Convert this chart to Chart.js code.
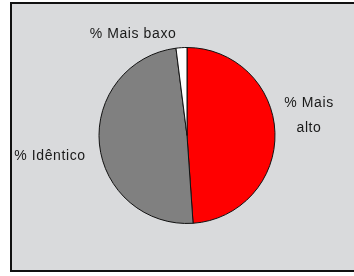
<!DOCTYPE html>
<html>
<head>
<meta charset="utf-8">
<script src="https://cdn.jsdelivr.net/npm/chart.js@4"></script>
<style>
  html, body { margin: 0; padding: 0; background: #fff; }
  #frame {
    position: absolute; left: 10px; top: 2px;
    width: 350px; height: 266px;
    background: #d9dadc;
    border: 2px solid #111;
  }
  #wrap { position: absolute; left: 0; top: 0; width: 354px; height: 276px; }
</style>
</head>
<body>
<div id="frame"></div>
<div id="wrap"><canvas id="pie" width="354" height="276"></canvas></div>
<script>
  /* ---- data ---- */
  const labels = ['% Mais alto', '% Idêntico', '% Mais baxo'];
  const values = [48.9, 49.1, 2.0];
  const colors = ['#ff0000', '#808080', '#ffffff'];
  // label lines + where each one sits (pixels on the canvas)
  const labelLines = [['% Mais', 'alto'], ['% Idêntico'], ['% Mais baxo']];
  const labelPos = [[309, 103], [50, 156], [133, 34]];

  const labelPlugin = {
    id: 'sliceLabels',
    afterDraw(chart) {
      const ctx = chart.ctx;
      ctx.save();
      ctx.font = '14px "Liberation Sans", Arial, sans-serif';
      ctx.letterSpacing = '0.6px';
      ctx.fillStyle = '#1a1a1a';
      ctx.textAlign = 'center';
      ctx.textBaseline = 'middle';
      labelLines.forEach((lines, i) => {
        lines.forEach((t, j) => ctx.fillText(t, labelPos[i][0], labelPos[i][1] + j * 25));
      });
      ctx.restore();
    },
  };

  new Chart(document.getElementById('pie'), {
    type: 'pie',
    data: {
      labels: labels,
      datasets: [{
        data: values,
        backgroundColor: colors,
        borderColor: '#111',
        borderWidth: 1,
      }],
    },
    options: {
      responsive: false,
      animation: false,
      layout: { padding: { left: 97, right: 77, top: 47, bottom: 52 } },
      plugins: { legend: { display: false }, tooltip: { enabled: false } },
    },
    plugins: [labelPlugin],
  });
</script>
</body>
</html>
